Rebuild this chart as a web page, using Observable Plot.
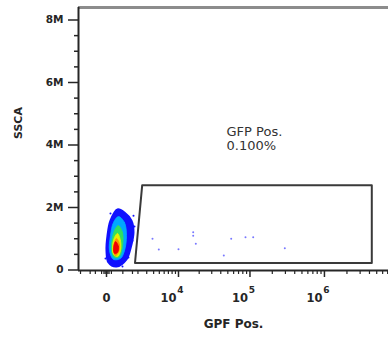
<!DOCTYPE html>
<html><head><meta charset="utf-8">
<script src="https://cdn.jsdelivr.net/npm/d3@7"></script>
<script src="https://cdn.jsdelivr.net/npm/@observablehq/plot@0.6"></script>
<style>html,body{margin:0;padding:0;background:#fff;}</style>
</head><body><div id="chart"></div>
<script>
// ---- axes ----
const xDomain = [-1674, 7.185e6];
const yDomain = [-0.016e6, 8.4e6];
const xMajorTicks = [0, 1e4, 1e5, 1e6];
const xMajorLabels = ["0", "10", "10", "10"];
const xDecadeTicks = [1e4, 1e5, 1e6];
const xExponents = ["4", "5", "6"];
const xMinorTicks = [-1500, -800, -500, -200, -100, -50, 50, 100, 200, 800, 1500,
  2e3, 3e3, 4e3, 5e3, 6e3, 7e3, 8e3, 9e3,
  2e4, 3e4, 4e4, 5e4, 6e4, 7e4, 8e4, 9e4,
  2e5, 3e5, 4e5, 5e5, 6e5, 7e5, 8e5, 9e5,
  2e6, 3e6, 4e6, 5e6, 6e6, 7e6];
const yMajorTicks = [0, 2e6, 4e6, 6e6, 8e6];
const yMajorLabels = ["0", "2M", "4M", "6M", "8M"];
const yMinorTicks = [0.5e6, 1e6, 1.5e6, 2.5e6, 3e6, 3.5e6, 4.5e6, 5e6, 5.5e6, 6.5e6, 7e6, 7.5e6];
const xTitle = "GPF Pos.";
const yTitle = "SSCA";

// ---- gate ----
const gateX = [2450, 4.297e6, 4.297e6, 1719];
const gateY = [2.714e6, 2.714e6, 0.224e6, 0.224e6];
const gateLabel = "GFP Pos.\n0.100%";
const gateLabelX = 4.8e4;
const gateLabelY = 4.62e6;

// ---- events inside gate ----
const eventsX = [3820, 4899, 10000, 16430, 16430, 17900, 44020, 55600, 86980, 110600, 294400];
const eventsY = [0.998e6, 0.656e6, 0.666e6, 1.21e6, 1.10e6, 0.838e6, 0.464e6, 0.998e6, 1.05e6, 1.05e6, 0.698e6];

// ---- main population density levels (outer to inner) ----
const levelColors = ["#1010ff", "#00a8ff", "#30e060", "#e8f000", "#ff9000", "#f00000"];
const levelBlue   = [[494,1.94e6],[905,1.84e6],[1416,1.58e6],[1587,1.2e6],[1336,0.69e6],[1040,0.34e6],[441,0.11e6],[78,0.24e6],[0,0.62e6],[38,1.10e6],[160,1.58e6]];
const levelCyan   = [[547,1.71e6],[905,1.52e6],[1040,1.10e6],[905,0.62e6],[660,0.37e6],[294,0.34e6],[118,0.62e6],[160,1.10e6],[294,1.52e6]];
const levelGreen  = [[547,1.42e6],[779,1.2e6],[779,0.75e6],[603,0.43e6],[342,0.40e6],[204,0.62e6],[248,1.04e6],[391,1.33e6]];
const levelYellow = [[494,1.17e6],[660,0.94e6],[660,0.62e6],[494,0.43e6],[294,0.50e6],[248,0.75e6],[342,1.04e6]];
const levelOrange = [[441,1.01e6],[603,0.82e6],[547,0.56e6],[391,0.46e6],[294,0.62e6],[342,0.88e6]];
const levelRed    = [[391,0.91e6],[547,0.75e6],[494,0.56e6],[342,0.53e6],[294,0.69e6]];
const levels = [levelBlue, levelCyan, levelGreen, levelYellow, levelOrange, levelRed];
const edgeEvents = [[1587,1.74e6],[1674,1.39e6],[1501,0.94e6],[1183,0.40e6],[-38,0.37e6],[779,0.11e6],[160,1.81e6]];

const gate = gateX.map((x, i) => ({x, y: gateY[i]}));
const events = eventsX.map((x, i) => ({x, y: eventsY[i]}));

const ink = "#262626";
const plot = Plot.plot({
  width: 388, height: 338,
  marginLeft: 78, marginRight: 0, marginTop: 7, marginBottom: 68,
  style: {fontFamily: "DejaVu Sans", background: "#fff", color: ink},
  x: {type: "symlog", constant: 1225, domain: xDomain},
  y: {type: "linear", domain: yDomain},
  marks: [
    ...levels.map((pts, i) => Plot.line(pts, {x: d => d[0], y: d => d[1], curve: "catmull-rom-closed", fill: levelColors[i], stroke: levelColors[i], strokeWidth: i === 0 ? 2 : 0.8})),
    Plot.dot(edgeEvents, {x: d => d[0], y: d => d[1], r: 1, fill: "#1010ff"}),
    Plot.line(gate, {x: "x", y: "y", curve: "linear-closed", stroke: "#3a3a3a", strokeWidth: 2}),
    Plot.dot(events, {x: "x", y: "y", r: 1, fill: "#7878ff"}),
    Plot.text([gateLabel], {x: gateLabelX, y: gateLabelY, text: d => d, textAnchor: "start", lineAnchor: "top", lineHeight: 1.08, fontSize: 13, fill: "#333"}),
    // frame lines
    Plot.ruleY([yDomain[1]], {stroke: "#8c8c8c", strokeWidth: 3}),
    Plot.ruleX([xDomain[0]], {stroke: ink, strokeWidth: 2}),
    Plot.ruleY([yDomain[0]], {stroke: ink, strokeWidth: 2}),
    // y axis
    Plot.axisY(yMajorTicks, {tickSize: 10, tickPadding: 5, tickFormat: d => yMajorLabels[yMajorTicks.indexOf(d)], fontSize: 10.5, fontWeight: "bold", strokeWidth: 1.5, label: null}),
    Plot.axisY(yMinorTicks, {tickSize: 4, tickFormat: () => "", strokeWidth: 1.5, label: null}),
    // x axis ticks
    Plot.axisX(xMajorTicks, {tickSize: 7, tickFormat: () => "", strokeWidth: 1.5, label: null}),
    Plot.axisX(xMinorTicks, {tickSize: 4, tickFormat: () => "", strokeWidth: 1.2, label: null}),
    // x axis labels
    Plot.axisX([0], {tickSize: 0, tickPadding: 23, tickFormat: d => xMajorLabels[xMajorTicks.indexOf(d)], fontSize: 11.5, fontWeight: "bold", label: null}),
    Plot.axisX(xDecadeTicks, {tickSize: 0, tickPadding: 23, dx: -10, tickFormat: d => xMajorLabels[xMajorTicks.indexOf(d)], fontSize: 11.5, fontWeight: "bold", label: null}),
    Plot.axisX(xDecadeTicks, {tickSize: 0, tickPadding: 16, dx: 2, tickFormat: d => xExponents[xDecadeTicks.indexOf(d)], fontSize: 9, fontWeight: "bold", label: null}),
    // titles
    Plot.text([xTitle], {frameAnchor: "bottom", dy: 57, text: d => d, fontSize: 12, fontWeight: "bold", fill: ink}),
    Plot.text([yTitle], {frameAnchor: "left", dx: -60, rotate: -90, text: d => d, fontSize: 11, fontWeight: "bold", fill: ink})
  ]
});
document.getElementById("chart").appendChild(plot);
</script>
</body></html>
